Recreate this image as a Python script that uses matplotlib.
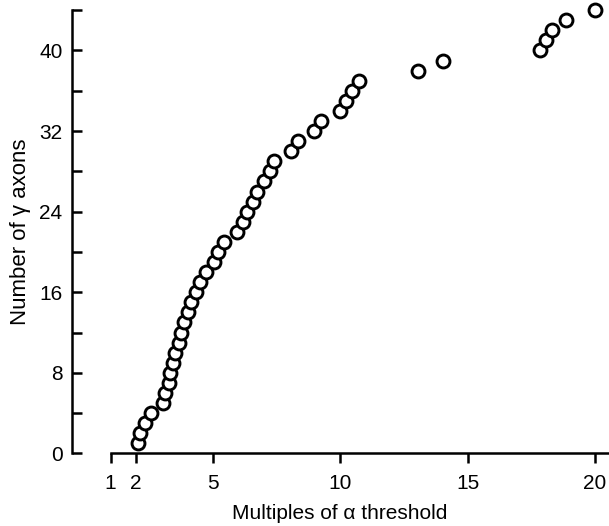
import matplotlib
matplotlib.use("Agg")
import matplotlib.pyplot as plt
from matplotlib.ticker import FixedLocator

# Data: multiples of alpha threshold vs cumulative number of gamma axons
multiples = [2.09, 2.15, 2.35, 2.58, 3.04, 3.15, 3.29, 3.35, 3.46, 3.51,
             3.67, 3.76, 3.87, 4.03, 4.14, 4.35, 4.50, 4.73, 5.06, 5.22,
             5.45, 5.95, 6.21, 6.37, 6.58, 6.73, 7.00, 7.25, 7.41, 8.09,
             8.37, 8.98, 9.27, 9.98, 10.25, 10.46, 10.73, 13.06, 14.05, 17.83,
             18.08, 18.30, 18.86, 20.0]
n_axons = list(range(1, len(multiples) + 1))

x_ticks = [1, 2, 5, 10, 15, 20]
y_ticks = [0, 4, 8, 12, 16, 20, 24, 28, 32, 36, 40, 44]
y_labels = [0, 8, 16, 24, 32, 40]

plt.rcParams['font.family'] = ['Liberation Sans', 'DejaVu Sans']

W, H = 609, 526
fig = plt.figure(figsize=(W / 100, H / 100), dpi=100)
left, right, top, bottom = 72.3, 607.8, 10.2, 453.4
ax = fig.add_axes([left / W, (H - bottom) / H, (right - left) / W, (bottom - top) / H])

ax.plot(multiples, n_axons, linestyle='none', marker='o', ms=9.3,
        mfc='white', mec='black', mew=2.1, clip_on=False, zorder=3)

ax.set_xlim(-0.5, 20.5)
ax.set_ylim(0, 44)

for s in ['top', 'right']:
    ax.spines[s].set_visible(False)
ax.spines['left'].set_linewidth(1.8)
ax.spines['bottom'].set_linewidth(1.8)
ax.spines['left'].set_bounds(0, 44)
ax.spines['bottom'].set_bounds(1, 20.5)

ax.xaxis.set_major_locator(FixedLocator(x_ticks))
ax.set_xticklabels([str(v) for v in x_ticks])
ax.yaxis.set_major_locator(FixedLocator(y_ticks))
ax.set_yticklabels([str(v) if v in y_labels else '' for v in y_ticks])

ax.tick_params(axis='x', direction='out', length=7, width=1.8, labelsize=15, pad=8)
ax.tick_params(axis='y', direction='in', length=7, width=1.8, labelsize=15, pad=7)

ax.set_xlabel('Multiples of \u03b1 threshold', fontsize=15, labelpad=8)
ax.set_ylabel('Number of \u03b3 axons', fontsize=16, labelpad=6)

fig.savefig('out.png', dpi=100)
